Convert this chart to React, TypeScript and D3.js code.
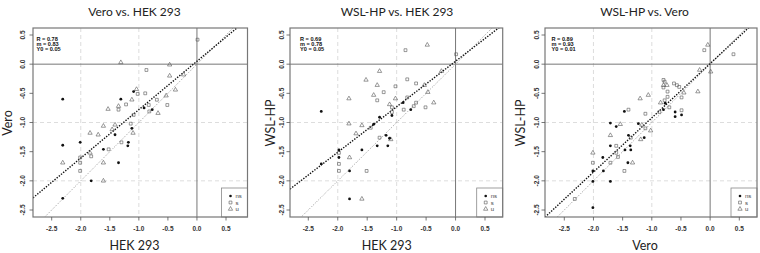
import React from 'react';
import * as d3 from 'd3';

// ---------- data ----------
const TITLES = ['Vero vs. HEK 293', 'WSL-HP vs. HEK 293', 'WSL-HP vs. Vero'];
const X_LABELS = ['HEK 293', 'HEK 293', 'Vero'];
const Y_LABELS = ['Vero', 'WSL-HP', 'WSL-HP'];
const STAT_R = ['0.78', '0.69', '0.89'];
const STAT_M = ['0.83', '0.78', '0.93'];
const STAT_Y0 = ['0.05', '0.05', '0.01'];
const TICKS = [-2.5, -2, -1.5, -1, -0.5, 0, 0.5];
const TICK_LABELS = ['-2.5', '-2.0', '-1.5', '-1.0', '-0.5', '0.0', '0.5'];
const GRID = [-2, -1];
const LEGEND = ['ns', 's', 'u'];

type P = [number, number];

const P1_NS: P[] = [[-2.31,-0.60],[-1.31,-0.60],[-1.09,-0.47],[-0.91,-0.75],[-0.77,-0.78],[-1.12,-1.10],[-1.41,-1.21],[-2.31,-1.39],[-2.01,-1.34],[-1.18,-1.34],[-1.61,-1.46],[-1.35,-1.69],[-1.82,-2.00],[-2.31,-2.30],[-1.19,-1.40]];
const P1_S: P[] = [[0.01,0.42],[-0.87,-0.10],[-1.02,-0.51],[-0.89,-0.50],[-1.22,-0.69],[-1.35,-0.78],[-0.83,-0.70],[-0.69,-0.61],[-0.51,-0.70],[-0.82,-0.81],[-1.09,-0.87],[-1.14,-1.02],[-1.30,-1.34],[-1.52,-1.46],[-1.82,-1.58],[-2.01,-1.60],[-2.01,-1.69],[-2.01,-1.83]];
const P1_U: P[] = [[-1.31,0.03],[-0.47,-0.01],[-0.47,-0.20],[-0.23,-0.18],[-1.04,-0.43],[-0.37,-0.44],[-1.12,-0.61],[-0.53,-0.54],[-0.67,-0.84],[-1.53,-0.77],[-1.35,-0.72],[-1.61,-1.06],[-1.41,-1.04],[-1.46,-1.12],[-1.84,-1.18],[-1.70,-1.21],[-1.84,-1.52],[-2.31,-1.69],[-1.61,-1.69],[-1.61,-2.00],[-1.10,-1.18]];

const P2_NS: P[] = [[-2.28,-0.81],[-1.29,-0.91],[-1.39,-1.03],[-0.89,-0.66],[-0.76,-0.78],[-1.08,-0.88],[-1.98,-1.47],[-1.59,-1.47],[-1.33,-1.40],[-2.28,-1.71],[-1.98,-1.60],[-1.80,-1.83],[-1.80,-2.31],[-1.18,-1.22],[-1.12,-1.27],[-1.15,-1.40]];
const P2_S: P[] = [[-1.33,-0.62],[-0.85,0.24],[0.01,0.17],[-0.82,-0.26],[-0.67,-0.33],[-1.02,-0.38],[-1.22,-0.48],[-0.82,-0.57],[-1.08,-0.74],[-0.67,-0.66],[-0.71,-0.72],[-0.88,-0.78],[-0.51,-0.74],[-1.08,-0.82],[-1.44,-1.09],[-1.29,-1.26],[-1.98,-1.52],[-1.98,-1.71],[-1.98,-1.83],[-1.51,-1.83]];
const P2_U: P[] = [[-1.29,-0.12],[-1.52,-0.27],[-1.33,-0.36],[-1.81,-0.59],[-1.39,-0.53],[-1.81,-1.02],[-1.59,-1.05],[-0.48,0.33],[-0.24,-0.12],[-0.53,-0.36],[-0.47,-0.48],[-1.02,-0.59],[-1.12,-0.69],[-0.37,-0.66],[-1.69,-1.19],[-1.80,-1.60],[-1.59,-2.31],[-1.10,-1.29]];

const P3_NS: P[] = [[-1.47,-0.81],[-1.71,-1.01],[-1.61,-1.07],[-0.77,-0.67],[-0.80,-0.78],[-0.60,-0.82],[-0.60,-0.90],[-0.49,-0.87],[-1.23,-1.02],[-1.40,-1.22],[-1.71,-1.40],[-1.46,-1.47],[-1.37,-1.40],[-1.36,-1.47],[-1.84,-1.60],[-1.41,-1.69],[-2.01,-1.83],[-1.83,-1.83],[-2.01,-2.01],[-1.71,-2.01],[-2.01,-2.46],[-1.13,-1.26]];
const P3_S: P[] = [[-1.40,-0.78],[-0.10,0.24],[0.40,0.17],[-0.80,-0.27],[-0.78,-0.30],[-0.62,-0.33],[-0.57,-0.36],[-0.53,-0.39],[-0.80,-0.40],[-0.73,-0.47],[-0.49,-0.57],[-0.73,-0.56],[-0.78,-0.62],[-0.70,-0.74],[-0.87,-0.82],[-0.49,-0.79],[-1.11,-0.85],[-1.11,-1.10],[-1.36,-1.26],[-1.61,-1.40],[-1.61,-1.52],[-1.58,-1.59],[-2.01,-1.69],[-1.71,-1.69],[-1.47,-1.83],[-2.32,-2.31]];
const P3_U: P[] = [[-1.54,-1.03],[-0.04,0.33],[0.01,-0.13],[-0.18,-0.10],[-0.80,-0.36],[-0.74,-0.36],[-0.21,-0.47],[-0.45,-0.49],[-1.20,-0.59],[-1.06,-0.53],[-0.85,-0.66],[-1.17,-1.04],[-1.71,-1.22],[-2.01,-1.52],[-1.33,-1.69],[-1.19,-1.29],[-1.02,-1.14]];

const NS = [P1_NS, P2_NS, P3_NS];
const S = [P1_S, P2_S, P3_S];
const U = [P1_U, P2_U, P3_U];

// ---------- layout ----------
const LAYOUT = [
  { x0: 51.7, x1: 226, left: 33, right: 247.5, title: 134.5, xlab: 134.5, ylab: 11.5, stat: 36.5, tickX: 25 },
  { x0: 308.3, x1: 485, left: 290, right: 502.7, title: 397, xlab: 386.7, ylab: 274.5, stat: 300, tickX: 284 },
  { x0: 564.3, x1: 739.3, left: 545, right: 757, title: 644.5, xlab: 645, ylab: 524.5, stat: 551.5, tickX: 539 },
];
const TOP = 28, BOTTOM = 217;
const yScale = d3.scaleLinear().domain([-2.5, 0.5]).range([210, 35]);

const triPath = d3.symbol().type(d3.symbolTriangle).size(8)()!;
const sqPath = d3.symbol().type(d3.symbolSquare).size(8)()!;

function Panel({ i }: { i: number }) {
  const L = LAYOUT[i];
  const x = d3.scaleLinear().domain([-2.5, 0.5]).range([L.x0, L.x1]);
  const xmin = x.invert(L.left), xmax = x.invert(L.right);
  const m = +STAT_M[i], b = +STAT_Y0[i];
  const line = d3.line<P>().x(d => x(d[0])).y(d => yScale(d[1]));
  const clipId = `clip${i}`;
  const font = 'Liberation Sans, Arial, sans-serif';
  const hfont = 'Lato, Open Sans, sans-serif';
  const legLeft = L.right - 26;
  return (
    <g>
      <defs>
        <clipPath id={clipId}>
          <rect x={L.left} y={TOP} width={L.right - L.left} height={BOTTOM - TOP} />
        </clipPath>
      </defs>
      <text x={L.title} y={16} textAnchor="middle" fontFamily={hfont} fontSize={12} fill="#222">{TITLES[i]}</text>
      <text x={L.xlab} y={250} textAnchor="middle" fontFamily={hfont} fontSize={12.5} fill="#222">{X_LABELS[i]}</text>
      <text transform={`translate(${L.ylab},123) rotate(-90)`} textAnchor="middle" fontFamily={hfont} fontSize={12.5} fill="#222">{Y_LABELS[i]}</text>
      <g clipPath={`url(#${clipId})`}>
        {GRID.map(g => (
          <g key={g}>
            <line x1={x(g)} x2={x(g)} y1={TOP} y2={BOTTOM} stroke="#d4d4d4" strokeDasharray="4,3" strokeWidth={0.8} />
            <line x1={L.left} x2={L.right} y1={yScale(g)} y2={yScale(g)} stroke="#d4d4d4" strokeDasharray="4,3" strokeWidth={0.8} />
          </g>
        ))}
        <line x1={x(0)} x2={x(0)} y1={TOP} y2={BOTTOM} stroke="#777" strokeWidth={1} />
        <line x1={L.left} x2={L.right} y1={yScale(0)} y2={yScale(0)} stroke="#777" strokeWidth={1} />
        <path d={line([[xmin, xmin], [xmax, xmax]])!} stroke="#999" strokeWidth={1} strokeDasharray="1,1.5" fill="none" />
        <path d={line([[xmin, m * xmin + b], [xmax, m * xmax + b]])!} stroke="#111" strokeWidth={1.4} strokeDasharray="1.4,1.4" fill="none" />
        {S[i].map((d, k) => (
          <path key={'s' + k} d={sqPath} transform={`translate(${x(d[0])},${yScale(d[1])})`} fill="none" stroke="#555" strokeWidth={0.6} />
        ))}
        {U[i].map((d, k) => (
          <path key={'u' + k} d={triPath} transform={`translate(${x(d[0])},${yScale(d[1])})`} fill="none" stroke="#555" strokeWidth={0.6} />
        ))}
        {NS[i].map((d, k) => (
          <circle key={'n' + k} cx={x(d[0])} cy={yScale(d[1])} r={1.4} fill="#111" />
        ))}
      </g>
      {/* legend */}
      <rect x={legLeft} y={188} width={L.right - legLeft} height={BOTTOM - 188} fill="#fff" stroke="#888" strokeWidth={0.8} />
      {LEGEND.map((t, k) => {
        const yy = 196 + k * 6.5;
        const sx = legLeft + 9;
        return (
          <g key={t}>
            {k === 0 && <circle cx={sx} cy={yy} r={1.3} fill="#111" />}
            {k === 1 && <path d={sqPath} transform={`translate(${sx},${yy})`} fill="none" stroke="#555" strokeWidth={0.6} />}
            {k === 2 && <path d={triPath} transform={`translate(${sx},${yy})`} fill="none" stroke="#555" strokeWidth={0.6} />}
            <text x={sx + 5} y={yy + 2} fontFamily={font} fontSize={6} fill="#444">{t}</text>
          </g>
        );
      })}
      {/* stats */}
      {[`R = ${STAT_R[i]}`, `m = ${STAT_M[i]}`, `Y0 = ${STAT_Y0[i]}`].map((t, k) => (
        <text key={k} x={L.stat} y={40.8 + k * 4.9} fontFamily={font} fontSize={5.6} fontWeight="bold" fill="#111">{t}</text>
      ))}
      {/* box */}
      <rect x={L.left} y={TOP} width={L.right - L.left} height={BOTTOM - TOP} fill="none" stroke="#777" strokeWidth={1.2} />
      {/* ticks */}
      {TICKS.map((t, k) => (
        <g key={'x' + k}>
          <line x1={x(t)} x2={x(t)} y1={BOTTOM} y2={BOTTOM + 3.5} stroke="#555" strokeWidth={0.8} />
          <text x={x(t)} y={230.5} textAnchor="middle" fontFamily={font} fontSize={6.5} fontWeight="bold" fill="#333">{TICK_LABELS[k]}</text>
          <line x1={L.left} x2={L.left - 3.5} y1={yScale(t)} y2={yScale(t)} stroke="#555" strokeWidth={0.8} />
          <text transform={`translate(${L.tickX},${yScale(t)}) rotate(-90)`} textAnchor="middle" fontFamily={font} fontSize={6.5} fontWeight="bold" fill="#333">{TICK_LABELS[k]}</text>
        </g>
      ))}
    </g>
  );
}

export default function App() {
  return (
    <svg width={760} height={253} style={{ position: 'absolute', left: 0, top: 0, background: '#fff' }}>
      <rect width={760} height={253} fill="#fff" />
      {[0, 1, 2].map(i => <Panel key={i} i={i} />)}
    </svg>
  );
}
